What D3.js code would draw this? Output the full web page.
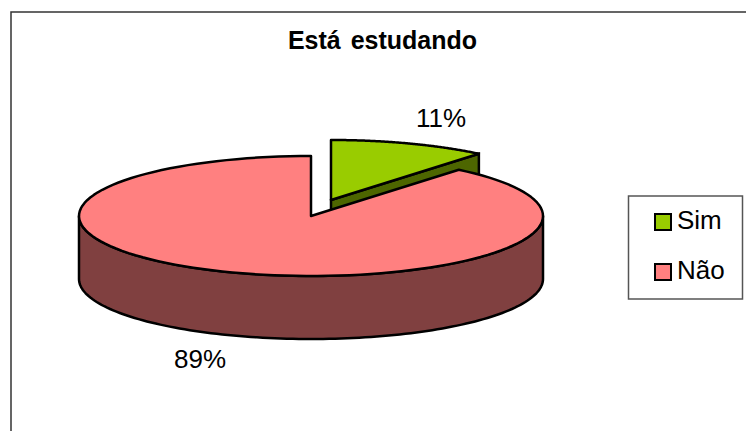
<!DOCTYPE html>
<html><head><meta charset="utf-8">
<script src="https://cdn.jsdelivr.net/npm/d3@7"></script>
<style>html,body{margin:0;padding:0;background:#fff}svg{display:block}text{font-family:"Liberation Sans",Arial,sans-serif;fill:#000}</style>
</head><body><div id="c"></div>
<script>
const title = "Está estudando";
const categories = ["Sim", "Não"];
const values = [11, 89];
const colors = ["#99CC00", "#FF8080"];
const sideColors = ["#4D6600", "#804040"];

const W = 746, H = 431;
const svg = d3.select("#c").append("svg").attr("width", W).attr("height", H);

// frame (runs off the right and bottom of the picture)
svg.append("rect").attr("x", 11).attr("y", 12).attr("width", 760).attr("height", 440)
  .attr("fill", "#fff").attr("stroke", "#333").attr("stroke-width", 1.5);

svg.append("text").attr("x", 382.5).attr("y", 49).attr("text-anchor", "middle")
  .attr("font-size", 25).attr("font-weight", "bold").attr("word-spacing", 3).text(title);

const cx = 311, cy = 216, rx = 232, ry = 60, depth = 63;
const offsets = [[20, -16], [0, 0]];
const pie = d3.pie().sort(null).startAngle(0).endAngle(2 * Math.PI)(values);
const px = a => rx * Math.sin(a), py = a => -ry * Math.cos(a);
const total = d3.sum(values);
const strokeW = 2.5;

function arcPts(a0, a1) {
  return d3.range(0, 121).map(i => {
    const a = a0 + (a1 - a0) * i / 120;
    return [px(a), py(a)];
  });
}
const line = d3.line();

// green slice: inner wall, then top
{
  const s = pie[0], [dx, dy] = offsets[0];
  const g = svg.append("g").attr("transform", `translate(${cx + dx},${cy + dy})`);
  const e = [px(s.endAngle), py(s.endAngle)];
  const wall = [[0, 0], e, [e[0], e[1] + depth], [0, depth]];
  g.append("path").attr("d", line(wall) + "Z").attr("fill", sideColors[0]).attr("stroke", "#000").attr("stroke-width", strokeW);
  g.append("path").attr("d", line([[0, 0], ...arcPts(s.startAngle, s.endAngle)]) + "Z")
    .attr("fill", colors[0]).attr("stroke", "#000").attr("stroke-width", strokeW).attr("stroke-linejoin", "round");
}
// pink slice: outer wall, then top
{
  const s = pie[1];
  const g = svg.append("g").attr("transform", `translate(${cx},${cy})`);
  const front = arcPts(Math.PI / 2, 3 * Math.PI / 2);
  const wall = [...front, ...front.slice().reverse().map(p => [p[0], p[1] + depth])];
  g.append("path").attr("d", line(wall) + "Z").attr("fill", sideColors[1]).attr("stroke", "#000").attr("stroke-width", strokeW).attr("stroke-linejoin", "round");
  g.append("path").attr("d", line([[0, 0], ...arcPts(s.startAngle, s.endAngle)]) + "Z")
    .attr("fill", colors[1]).attr("stroke", "#000").attr("stroke-width", strokeW).attr("stroke-linejoin", "round");
}

// data labels
const pct = v => Math.round(v / total * 100) + "%";
svg.append("text").attr("x", 441).attr("y", 127).attr("text-anchor", "middle").attr("font-size", 26).text(pct(values[0]));
svg.append("text").attr("x", 200).attr("y", 368).attr("text-anchor", "middle").attr("font-size", 26).text(pct(values[1]));

// legend
svg.append("rect").attr("x", 628.5).attr("y", 196).attr("width", 114).attr("height", 103)
  .attr("fill", "#fff").attr("stroke", "#555").attr("stroke-width", 1.5);
const ly = d3.scalePoint().domain(categories).range([222, 272]);
categories.forEach((c, i) => {
  svg.append("rect").attr("x", 655).attr("y", ly(c) - 8).attr("width", 16).attr("height", 16)
    .attr("fill", colors[i]).attr("stroke", "#000").attr("stroke-width", 2);
  svg.append("text").attr("x", 677).attr("y", ly(c) + 7).attr("font-size", 26).text(c);
});
</script></body></html>
